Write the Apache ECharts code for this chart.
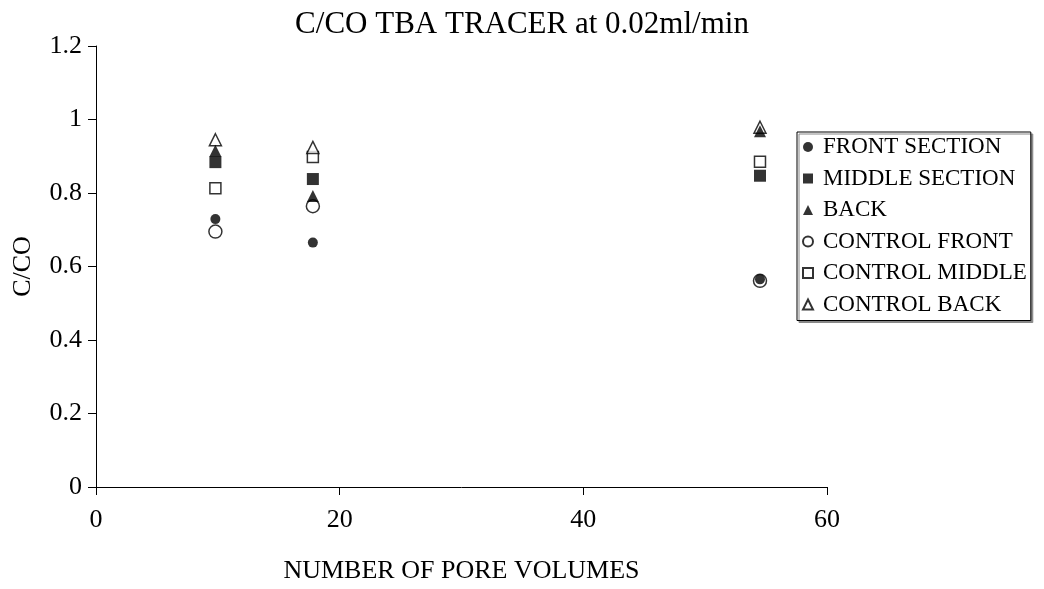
<!DOCTYPE html>
<html>
<head>
<meta charset="utf-8">
<script src="https://cdn.jsdelivr.net/npm/echarts@6/dist/echarts.min.js"></script>
<style>
html,body{margin:0;padding:0;background:#fff;}
#chart{width:1044px;height:589px;}
</style>
</head>
<body>
<div id="chart"></div>
<script>
const poreVolumes = [9.8, 17.8, 54.5];
const frontSection = [0.729, 0.665, 0.565];
const middleSection = [0.884, 0.838, 0.847];
const back = [0.915, 0.792, 0.968];
const controlFront = [0.695, 0.764, 0.561];
const controlMiddle = [0.813, 0.898, 0.885];
const controlBack = [0.945, 0.924, 0.979];

const seriesNames = ['FRONT SECTION','MIDDLE SECTION','BACK','CONTROL FRONT','CONTROL MIDDLE','CONTROL BACK'];
const seriesValues = [frontSection, middleSection, back, controlFront, controlMiddle, controlBack];
const symbols = ['circle','rect','triangle','circle','rect','triangle'];
const sizes = [10, 12, 12, 13, 11, 12];
const filled = [true, true, true, false, false, false];

const font = 'Liberation Serif, Times New Roman, serif';
const chart = echarts.init(document.getElementById('chart'));

const series = seriesNames.map((n, i) => ({
  name: n,
  type: 'scatter',
  symbol: symbols[i],
  symbolSize: sizes[i],
  data: poreVolumes.map((x, j) => [x, seriesValues[i][j]]),
  itemStyle: filled[i]
    ? { color: '#000', borderColor: '#000', borderWidth: 0 }
    : { color: '#fff', borderColor: '#000', borderWidth: 1.5 },
  z: filled[i] ? 3 : 2
}));

chart.setOption({
  animation: false,
  backgroundColor: '#fff',
  title: {
    text: 'C/CO TBA TRACER at 0.02ml/min',
    left: 'center',
    top: 4,
    textStyle: { fontFamily: font, fontSize: 31, fontWeight: 'normal', color: '#000' }
  },
  grid: { left: 96, top: 46, width: 731, height: 456 },
  legend: {
    orient: 'vertical',
    left: 797,
    top: 132,
    data: seriesNames,
    itemWidth: 10,
    itemHeight: 10,
    itemGap: 7.5,
    padding: [3, 4, 4, 5],
    borderColor: '#000',
    borderWidth: 1,
    backgroundColor: '#fff',
    shadowColor: '#888',
    shadowOffsetX: 2,
    shadowOffsetY: 2,
    shadowBlur: 0,
    textStyle: { fontFamily: font, fontSize: 23, lineHeight: 24, color: '#000', padding: [0, 0, 0, 5] }
  },
  xAxis: {
    type: 'value',
    min: 0, max: 60, interval: 20,
    name: 'NUMBER OF PORE VOLUMES',
    nameLocation: 'middle',
    nameGap: 71,
    nameTextStyle: { fontFamily: font, fontSize: 26, color: '#000' },
    axisLine: { onZero: false, lineStyle: { color: '#000', width: 1 } },
    axisTick: { show: true, inside: false, length: 8, lineStyle: { color: '#000' } },
    axisLabel: { fontFamily: font, fontSize: 26, color: '#000', margin: 20 },
    splitLine: { show: false }
  },
  yAxis: {
    type: 'value',
    min: 0, max: 1.2, interval: 0.2,
    name: 'C/CO',
    nameLocation: 'middle',
    nameGap: 60,
    nameRotate: 90,
    nameTextStyle: { fontFamily: font, fontSize: 26, color: '#000' },
    axisLine: { show: true, onZero: false, lineStyle: { color: '#000', width: 1 } },
    axisTick: { show: true, inside: false, length: 8, lineStyle: { color: '#000' } },
    axisLabel: { fontFamily: font, fontSize: 26, color: '#000', margin: 14,
      formatter: v => String(Math.round(v * 10) / 10) },
    splitLine: { show: false }
  },
  series: series
});
</script>
</body>
</html>
